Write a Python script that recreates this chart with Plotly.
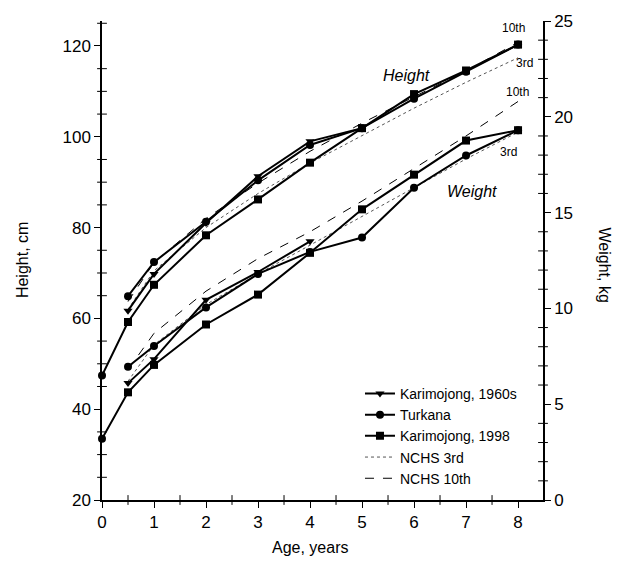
import plotly.graph_objects as go

# ---------------- data ----------------
ages_k60 = [0.5, 1, 2, 3, 4, 5]
height_k60 = [61.7, 69.8, 81.0, 91.3, 99.0, 101.9]
ages_k60_w = [0.5, 1, 2, 3, 4]
weight_k60 = [6.1, 7.35, 10.45, 11.9, 13.5]

ages_turk = [0.5, 1, 2, 3, 4, 5, 6, 7, 8]
height_turk = [64.9, 72.4, 81.3, 90.4, 98.2, 101.9, 108.4, 114.3, 120.3]
weight_turk = [6.95, 8.04, 10.05, 11.8, 12.95, 13.7, 16.3, 17.98, 19.3]

ages_k98 = [0, 0.5, 1, 2, 3, 4, 5, 6, 7, 8]
height_k98 = [47.4, 59.2, 67.4, 78.3, 86.2, 94.3, 101.9, 109.4, 114.6, 120.3]
weight_k98 = [3.2, 5.62, 7.05, 9.16, 10.72, 12.9, 15.17, 16.98, 18.76, 19.3]

ages_nchs = [0.5, 1, 2, 3, 4, 5, 6, 7, 8]
height_nchs3 = [62.0, 70.5, 80.0, 87.5, 94.2, 100.3, 106.3, 112.0, 117.4]
height_nchs10 = [63.7, 72.3, 82.0, 89.8, 96.8, 103.0, 108.8, 114.5, 120.8]
weight_nchs3 = [6.2, 8.1, 10.2, 11.8, 13.3, 14.8, 16.3, 17.8, 19.2]
weight_nchs10 = [6.8, 8.7, 10.9, 12.6, 14.0, 15.6, 17.3, 19.0, 20.8]

series_names = ["Karimojong, 1960s", "Turkana", "Karimojong, 1998", "NCHS 3rd", "NCHS 10th"]

# axis settings
x_range = [0, 8.48]
h_range = [20, 125.5]
w_range = [0, 25]
x_minor = [0.5 + i for i in range(8)]
h_minor = [v for v in range(25, 126, 5) if v % 20 != 0]
w_minor = [v for v in range(1, 25) if v % 5 != 0]

# ---------------- figure ----------------
fig = go.Figure()
black = "black"

def data_trace(x, y, name, symbol, yaxis, show):
    return go.Scatter(
        x=x, y=y, name=name, yaxis=yaxis, mode="lines+markers",
        line=dict(color=black, width=2),
        marker=dict(symbol=symbol, size=8, color=black),
        legendgroup=name, showlegend=show, cliponaxis=False,
    )

dot_line = dict(color="#555", width=1, dash="dot")
dash_line = dict(color=black, width=1, dash="dash")

# NCHS lines
fig.add_trace(go.Scatter(x=ages_nchs, y=height_nchs3, name=series_names[3], mode="lines",
                         line=dot_line, legendgroup="n3", showlegend=False, yaxis="y"))
fig.add_trace(go.Scatter(x=ages_nchs, y=height_nchs10, name=series_names[4], mode="lines",
                         line=dash_line, legendgroup="n10", showlegend=False, yaxis="y"))
fig.add_trace(go.Scatter(x=ages_nchs, y=weight_nchs3, name=series_names[3], mode="lines",
                         line=dot_line, legendgroup="n3", showlegend=False, yaxis="y2"))
fig.add_trace(go.Scatter(x=ages_nchs, y=weight_nchs10, name=series_names[4], mode="lines",
                         line=dash_line, legendgroup="n10", showlegend=False, yaxis="y2"))

sym_k98 = ["circle"] + ["square"] * (len(ages_k98) - 1)

# Height data
fig.add_trace(data_trace(ages_k60, height_k60, series_names[0], "triangle-down", "y", True))
fig.add_trace(data_trace(ages_turk, height_turk, series_names[1], "circle", "y", True))
fig.add_trace(data_trace(ages_k98, height_k98, series_names[2], sym_k98, "y", False))
# Weight data
fig.add_trace(data_trace(ages_k60_w, weight_k60, series_names[0], "triangle-down", "y2", False))
fig.add_trace(data_trace(ages_turk, weight_turk, series_names[1], "circle", "y2", False))
fig.add_trace(data_trace(ages_k98, weight_k98, series_names[2], sym_k98, "y2", False))

# legend-only entries
fig.add_trace(go.Scatter(x=[None], y=[None], name=series_names[2], mode="lines+markers",
                         line=dict(color=black, width=2),
                         marker=dict(symbol="square", size=8, color=black),
                         legendgroup=series_names[2]))
fig.add_trace(go.Scatter(x=[None], y=[None], name=series_names[3], mode="lines",
                         line=dot_line, legendgroup="n3"))
fig.add_trace(go.Scatter(x=[None], y=[None], name=series_names[4], mode="lines",
                         line=dash_line, legendgroup="n10"))

# minor ticks drawn as line markers sitting on the axes
def tick_marks(x, y, symbol, yaxis):
    return go.Scatter(x=x, y=y, yaxis=yaxis, mode="markers", showlegend=False,
                      hoverinfo="skip", cliponaxis=False,
                      marker=dict(symbol=symbol, size=7, color=black,
                                  line=dict(color=black, width=1)))

fig.add_trace(tick_marks(x_minor, [h_range[0]] * len(x_minor), "line-ns", "y"))
fig.add_trace(tick_marks([x_range[0]] * len(h_minor), h_minor, "line-ew", "y"))
fig.add_trace(tick_marks([x_range[1]] * len(w_minor), w_minor, "line-ew", "y2"))

font_family = "Liberation Sans, Arial, sans-serif"
tickfont = dict(family=font_family, size=17, color=black)
common = dict(showline=True, linecolor=black, linewidth=1.5, ticks="outside", ticklen=6,
              tickcolor=black, tickwidth=1, tickfont=tickfont, showgrid=False, zeroline=False)

fig.update_layout(
    width=622, height=563,
    margin=dict(l=102, r=79, t=18, b=63),
    paper_bgcolor="white", plot_bgcolor="white",
    font=dict(family=font_family, color=black),
    xaxis=dict(range=x_range, dtick=1, **common),
    yaxis=dict(range=h_range, dtick=20, **common),
    yaxis2=dict(range=w_range, dtick=5, overlaying="y", side="right", anchor="x", **common),
    legend=dict(
        x=0.585, y=0.255, xanchor="left", yanchor="top",
        bgcolor="rgba(0,0,0,0)", font=dict(family=font_family, size=14, color=black),
        itemwidth=30, tracegroupgap=0, traceorder="normal",
    ),
    showlegend=True,
)

fig.add_annotation(text="Height, cm", xref="paper", yref="paper", x=-0.18, y=0.5,
                   textangle=-90, showarrow=False, font=dict(size=16, family=font_family),
                   xanchor="center", yanchor="middle")
fig.add_annotation(text="Weight, kg", xref="paper", yref="paper", x=1.14, y=0.49,
                   textangle=90, showarrow=False, font=dict(size=16, family=font_family),
                   xanchor="center", yanchor="middle")
fig.add_annotation(text="Age, years", xref="x", yref="paper", x=4, y=-0.1,
                   showarrow=False, font=dict(size=16, family=font_family),
                   xanchor="center", yanchor="middle")
fig.add_annotation(text="<i>Height</i>", xref="x", yref="y", x=5.85, y=113.4,
                   showarrow=False, font=dict(size=16, family=font_family), xanchor="center")
fig.add_annotation(text="<i>Weight</i>", xref="x", yref="y2", x=7.12, y=16.1,
                   showarrow=False, font=dict(size=16, family=font_family), xanchor="center")
fig.add_annotation(text="10th", xref="x", yref="y", x=7.92, y=124.0,
                   showarrow=False, font=dict(size=12, family=font_family), xanchor="center")
fig.add_annotation(text="3rd", xref="x", yref="y", x=8.13, y=116.3,
                   showarrow=False, font=dict(size=12, family=font_family), xanchor="center")
fig.add_annotation(text="10th", xref="x", yref="y2", x=7.98, y=21.3,
                   showarrow=False, font=dict(size=12, family=font_family), xanchor="center")
fig.add_annotation(text="3rd", xref="x", yref="y2", x=7.81, y=18.15,
                   showarrow=False, font=dict(size=12, family=font_family), xanchor="center")

fig.write_html("out.html")
